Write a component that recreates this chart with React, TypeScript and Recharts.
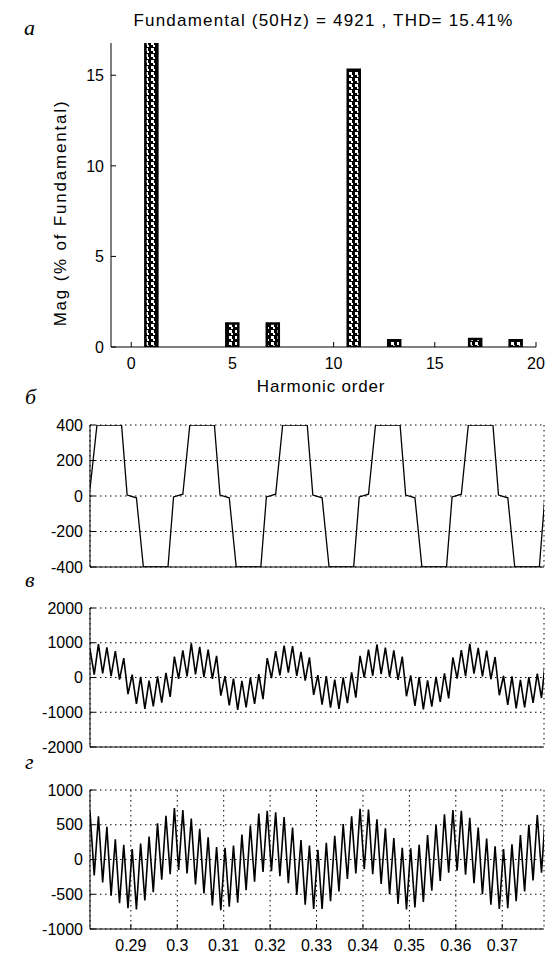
import React from "react";
import { BarChart, Bar, LineChart, Line, XAxis, YAxis, CartesianGrid } from "recharts";

// harmonic spectrum (% of fundamental)
const harmonicOrders = [0, 1, 2, 3, 4, 5, 6, 7, 8, 9, 10, 11, 12, 13, 14, 15, 16, 17, 18, 19, 20];
const harmonicMags = [0, 100, 0, 0, 0, 1.3, 0, 1.3, 0, 0, 0, 15.3, 0, 0.37, 0, 0, 0, 0.44, 0, 0.37, 0];
const specXTicks = [0, 5, 10, 15, 20];
const specYTicks = [0, 5, 10, 15];

const timeTicks = [0.29, 0.3, 0.31, 0.32, 0.33, 0.34, 0.35, 0.36, 0.37];

// б: voltage (piecewise linear, corner points)
const voltTimes = [
  0.2812, 0.2827,
  0.288, 0.2892, 0.2912, 0.2927, 0.298, 0.2992, 0.3012, 0.3027,
  0.308, 0.3092, 0.3112, 0.3127, 0.318, 0.3192, 0.3212, 0.3227,
  0.328, 0.3292, 0.3312, 0.3327, 0.338, 0.3392, 0.3412, 0.3427,
  0.348, 0.3492, 0.3512, 0.3527, 0.358, 0.3592, 0.3612, 0.3627,
  0.368, 0.3692, 0.3712, 0.3727, 0.378, 0.3792,
];
const voltValues = [
  40, 400,
  400, 5, -10, -400, -400, -5, 10, 400,
  400, 5, -10, -400, -400, -5, 10, 400,
  400, 5, -10, -400, -400, -5, 10, 400,
  400, 5, -10, -400, -400, -5, 10, 400,
  400, 5, -10, -400, -400, 0,
];
const voltTicks = [-400, -200, 0, 200, 400];

// в and г: sampled at ripple extrema
const sampleStart = 0.2812;
const sampleStep = 0.000909;
const phaseCurrent = [
  820, 80, 960, 120, 870, 40, 760, -60, 560, -480, 80, -760, 20, -900, -90, -830, 30, -720, 130, -560, 600, -40,
  780, 30, 980, 90, 880, 10, 800, -40, 620, -520, 40, -800, -30, -930, -100, -860, -10, -760, 100, -620, 560, -20,
  760, 60, 920, 140, 900, 50, 740, -90, 580, -500, 70, -780, 40, -870, -60, -900, 0, -740, 150, -580, 620, 0,
  800, 50, 950, 100, 860, 20, 780, -70, 600, -540, 60, -820, 10, -920, -80, -840, 20, -700, 120, -600, 580, -30,
  790, 40, 970, 110, 850, 30, 770, -50, 590, -510, 50, -790, 30, -890, -70, -860, 10, -730, 110, -590, 580,
];
const phaseTicks = [-2000, -1000, 0, 1000, 2000];

const lineCurrent = [
  690, -230, 620, -330, 470, -520, 290, -630, 210, -700, 150, -720, 230, -590, 330, -470, 520, -290, 630, -210, 740, -150,
  710, -200, 590, -360, 440, -490, 320, -660, 180, -730, 170, -680, 200, -620, 360, -440, 490, -320, 660, -180, 700, -170,
  680, -240, 610, -340, 460, -510, 280, -650, 200, -710, 140, -710, 240, -600, 340, -460, 510, -280, 620, -200, 730, -140,
  720, -210, 580, -350, 450, -500, 310, -640, 170, -720, 160, -690, 210, -610, 350, -450, 500, -310, 650, -190, 710, -160,
  700, -220, 600, -340, 460, -500, 300, -650, 190, -710, 150, -700, 220, -600, 350, -460, 500, -300, 640, -190, 720,
];
const lineTicks = [-1000, -500, 0, 500, 1000];

const W = 545;
const FONT = '"Liberation Sans", Arial, sans-serif';
const timeDomain: [number, number] = [0.2812, 0.379];
const tickStyle = { fill: "#000", fontSize: 16, fontFamily: FONT };

const spectrumData = harmonicOrders.map((order, i) => ({ order, mag: harmonicMags[i] }));
const voltData = voltTimes.map((t, i) => ({ t, v: voltValues[i] }));
const phaseData = phaseCurrent.map((v, i) => ({ t: sampleStart + i * sampleStep, v }));
const lineData = lineCurrent.map((v, i) => ({ t: sampleStart + i * sampleStep, v }));

function WavePanel({ top, height, marginTop, axisHeight, data, ticks, showLabels, lineWidth }: any) {
  const domain = [ticks[0], ticks[ticks.length - 1]];
  return (
    <div style={{ position: "absolute", left: 0, top, width: W, height }}>
      <LineChart width={W} height={height} data={data} margin={{ top: marginTop, right: 1, bottom: 0, left: 0 }}>
        <CartesianGrid stroke="#000" strokeDasharray="1.5 3.5" />
        <XAxis dataKey="t" type="number" domain={timeDomain} allowDataOverflow ticks={timeTicks} interval={0}
          height={axisHeight} stroke="#000" tickSize={-5} tickMargin={16} tick={showLabels ? tickStyle : false} />
        <XAxis xAxisId="top" orientation="top" dataKey="t" type="number" domain={timeDomain} allowDataOverflow
          ticks={timeTicks} interval={0} height={0} stroke="#000" tickSize={-5} tick={false} />
        <YAxis type="number" domain={domain} allowDataOverflow ticks={ticks} interval={0} width={90}
          stroke="#000" tickSize={-5} tickMargin={12} tick={tickStyle} />
        <YAxis yAxisId="right" orientation="right" type="number" domain={domain} allowDataOverflow ticks={ticks}
          interval={0} width={0} stroke="#000" tickSize={-5} tick={false} />
        <Line dataKey="v" type="linear" stroke="#000" strokeWidth={lineWidth} dot={false} isAnimationActive={false} />
      </LineChart>
    </div>
  );
}

const letter = (text: string, left: number, top: number) => (
  <div style={{ position: "absolute", left, top, fontFamily: '"Liberation Serif", serif', fontStyle: "italic", fontSize: 22, lineHeight: 1 }}>
    {text}
  </div>
);

export default function App() {
  return (
    <div style={{ position: "absolute", left: 0, top: 0, width: W, height: 954, background: "#fff", overflow: "hidden" }}>
      {letter("а", 24, 17)}
      {letter("б", 25, 386)}
      {letter("в", 25, 569)}
      {letter("г", 25, 751)}

      <div style={{ position: "absolute", left: 0, top: 12, width: 647, textAlign: "center", fontFamily: FONT, fontSize: 17, letterSpacing: 1.2, lineHeight: 1, whiteSpace: "pre" }}>
        Fundamental (50Hz) = 4921 , THD= 15.41%
      </div>

      <div style={{ position: "absolute", left: 0, top: 0, width: W, height: 400 }}>
        <BarChart width={W} height={400} data={spectrumData} margin={{ top: 43, right: 9, bottom: 0, left: 0 }}>
          <defs>
            <pattern id="dither" width="6" height="6" patternUnits="userSpaceOnUse">
              <rect width="6" height="6" fill="#000" />
              <rect x="1" y="0" width="3" height="3" fill="#fff" />
              <rect x="3" y="3" width="2" height="2" fill="#fff" />
            </pattern>
          </defs>
          <XAxis dataKey="order" type="number" domain={[-1, 20]} allowDataOverflow ticks={specXTicks} interval={0}
            height={53} stroke="#000" tickSize={-5} tickMargin={16} tick={tickStyle} />
          <XAxis xAxisId="top" orientation="top" dataKey="order" type="number" domain={[-1, 20]} allowDataOverflow
            ticks={specXTicks} interval={0} height={0} stroke="#000" tickSize={-5} tick={false} />
          <YAxis type="number" domain={[0, 16.78]} allowDataOverflow ticks={specYTicks} interval={0} width={111}
            stroke="#000" tickSize={-5} tickMargin={12} tick={tickStyle} />
          <YAxis yAxisId="right" orientation="right" type="number" domain={[0, 16.78]} allowDataOverflow
            ticks={specYTicks} interval={0} width={0} stroke="#000" tickSize={-5} tick={false} />
          <Bar dataKey="mag" fill="url(#dither)" stroke="#000" strokeWidth={2.5} barSize={12} isAnimationActive={false} />
        </BarChart>
      </div>

      <div style={{ position: "absolute", left: 171, top: 378, width: 300, textAlign: "center", fontFamily: FONT, fontSize: 17, letterSpacing: 0.8, lineHeight: 1 }}>
        Harmonic order
      </div>
      <div style={{ position: "absolute", left: 61 - 150, top: 213 - 9, width: 300, textAlign: "center", fontFamily: FONT, fontSize: 17, letterSpacing: 1.8, lineHeight: "18px", transform: "rotate(-90deg)" }}>
        Mag (% of Fundamental)
      </div>

      <WavePanel top={400} height={180} marginTop={25} axisHeight={13} data={voltData} ticks={voltTicks} showLabels={false} lineWidth={1.3} />
      <WavePanel top={590} height={170} marginTop={18} axisHeight={13} data={phaseData} ticks={phaseTicks} showLabels={false} lineWidth={1.6} />
      <WavePanel top={770} height={184} marginTop={20} axisHeight={25} data={lineData} ticks={lineTicks} showLabels={true} lineWidth={1.6} />
    </div>
  );
}
